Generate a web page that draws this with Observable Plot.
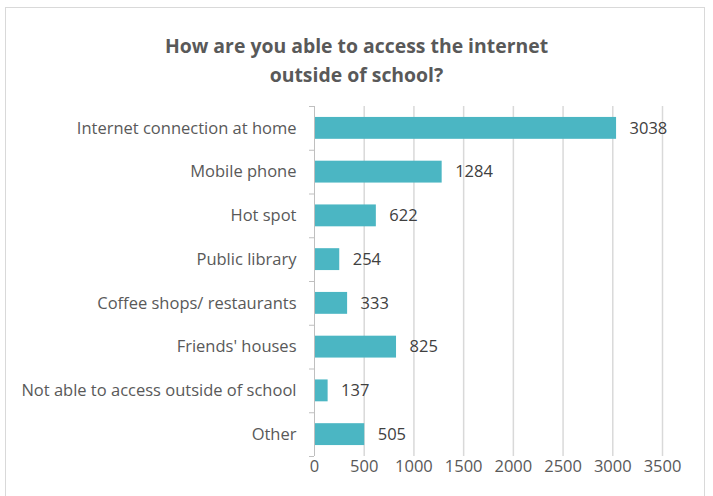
<!DOCTYPE html>
<html><head><meta charset="utf-8">
<script src="https://cdn.jsdelivr.net/npm/d3@7"></script>
<script src="https://cdn.jsdelivr.net/npm/@observablehq/plot@0.6"></script>
<style>
body{margin:0;background:#fff;}
#wrap{position:relative;width:713px;height:496px;overflow:hidden;font-family:"Open Sans",sans-serif;}
#border{position:absolute;left:5px;top:7px;width:700px;height:500px;border:1px solid #d9d9d9;box-sizing:border-box;}
#title{position:absolute;left:0;top:31px;width:713px;text-align:center;font-weight:bold;font-size:19.4px;line-height:29px;color:#595959;}
#chart{position:absolute;left:0;top:0;}
</style></head>
<body>
<div id="wrap"><div id="border"></div><div id="title">How are you able to access the internet<br>outside of school?</div><div id="chart"></div></div>
<script>
const categories = ["Internet connection at home","Mobile phone","Hot spot","Public library","Coffee shops/ restaurants","Friends' houses","Not able to access outside of school","Other"];
const values = [3038,1284,622,254,333,825,137,505];
const xTicks = [0,500,1000,1500,2000,2500,3000,3500];
const data = categories.map((c,i)=>({category:c,value:values[i]}));
const step = 350/8;
const chart = Plot.plot({
  width:713,height:496,
  marginLeft:314,marginRight:51,marginTop:106,marginBottom:40,
  style:{fontFamily:"Open Sans, sans-serif",fontSize:"16.5px",color:"#595959",background:"transparent"},
  x:{domain:[0,3500],ticks:xTicks,tickSize:0,tickPadding:4,label:null,tickFormat:d=>String(d)},
  y:{domain:categories,paddingInner:0.5,paddingOuter:0.25,round:false,label:null,tickSize:0,tickPadding:18},
  marks:[
    Plot.ruleX(xTicks.slice(1),{stroke:"#d9d9d9",strokeWidth:1.5}),
    Plot.barX(data,{y:"category",x:"value",fill:"#4bb6c3"}),
    Plot.ruleX([0],{stroke:"#bfbfbf",strokeWidth:1}),
    Plot.ruleY(data,{y:"category",x1:-50,x2:0,dy:-step/2,stroke:"#bfbfbf"}),
    Plot.ruleY([data[data.length-1]],{y:"category",x1:-50,x2:0,dy:step/2,stroke:"#bfbfbf"}),
    Plot.text(data,{y:"category",x:"value",text:d=>String(d.value),textAnchor:"start",dx:13,fill:"#404040",fontSize:16.5})
  ]
});
document.getElementById("chart").appendChild(chart);
</script>
</body></html>
